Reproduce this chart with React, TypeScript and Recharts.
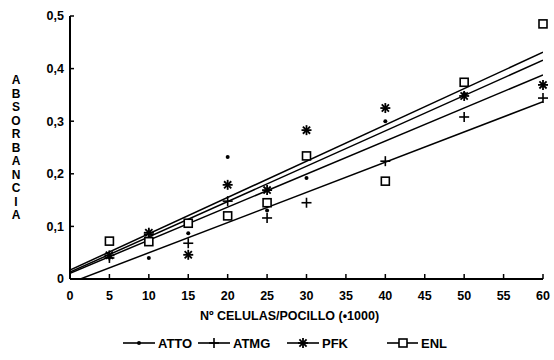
import { ScatterChart, Scatter, XAxis, YAxis, ReferenceLine, Legend } from 'recharts';

// cells per well (x1000)
const CELLS = [5, 10, 15, 20, 25, 30, 40, 50, 60];

// absorbance, null = no visible point
const ATTO = [0.042, 0.04, 0.087, 0.232, 0.13, 0.192, 0.3, 0.352, null];
const ATMG = [0.04, 0.085, 0.068, 0.148, 0.116, 0.145, 0.224, 0.308, 0.344];
const PFK = [0.045, 0.088, 0.046, 0.179, 0.169, 0.283, 0.325, 0.348, 0.369];
const ENL = [0.072, 0.071, 0.106, 0.12, 0.145, 0.234, 0.186, 0.374, 0.485];

// regression lines: value at FIT_X[0] and FIT_X[1]
const FIT_X = [0, 60];
const FIT_ENL = [0.017, 0.431];
const FIT_PFK = [0.013, 0.416];
const FIT_ATTO = [0.011, 0.388];
const FIT_ATMG = [-0.0075, 0.337];

const X_TICKS = [0, 5, 10, 15, 20, 25, 30, 35, 40, 45, 50, 55, 60];
const Y_TICKS = [0, 0.1, 0.2, 0.3, 0.4, 0.5];

const Y_TITLE = 'ABSORBANCIA';
const X_TITLE = 'Nº CELULAS/POCILLO (•1000)';

const FONT = '"Liberation Sans", Arial, sans-serif';
const LEGEND_ITEM_W = [75, 89, 100, 60];

const toPoints = (values: (number | null)[]) =>
  CELLS.map((x, i) => ({ x, y: values[i] })).filter((d) => d.y !== null);

const fitSegment = (fit: number[]) => [
  { x: FIT_X[0], y: fit[0] },
  { x: FIT_X[1], y: fit[1] },
];

// marker glyphs
const DotMark = ({ cx, cy }: any) => <circle cx={cx} cy={cy} r={2} fill="#000" />;

const PlusMark = ({ cx, cy }: any) => (
  <g stroke="#000" strokeWidth={1.6}>
    <line x1={cx - 5} y1={cy} x2={cx + 5} y2={cy} />
    <line x1={cx} y1={cy - 5} x2={cx} y2={cy + 5} />
  </g>
);

const StarMark = ({ cx, cy }: any) => (
  <g stroke="#000" strokeWidth={1.8}>
    <line x1={cx - 5} y1={cy} x2={cx + 5} y2={cy} />
    <line x1={cx} y1={cy - 5} x2={cx} y2={cy + 5} />
    <line x1={cx - 3.6} y1={cy - 3.6} x2={cx + 3.6} y2={cy + 3.6} />
    <line x1={cx - 3.6} y1={cy + 3.6} x2={cx + 3.6} y2={cy - 3.6} />
  </g>
);

const SquareMark = ({ cx, cy }: any) => (
  <rect x={cx - 4} y={cy - 4} width={8} height={8} fill="#fff" stroke="#000" strokeWidth={1.6} />
);

const SERIES = [
  { name: 'ATTO', values: ATTO, Mark: DotMark },
  { name: 'ATMG', values: ATMG, Mark: PlusMark },
  { name: 'PFK', values: PFK, Mark: StarMark },
  { name: 'ENL', values: ENL, Mark: SquareMark },
];

const FITS = [FIT_ENL, FIT_PFK, FIT_ATTO, FIT_ATMG];

const formatY = (v: number) => (v === 0 ? '0' : v.toFixed(1).replace('.', ','));

const YTitle = ({ viewBox }: any) => {
  const cy = viewBox.y + viewBox.height / 2;
  const step = 13.5;
  const top = cy - ((Y_TITLE.length - 1) * step) / 2;
  return (
    <text x={16} y={top} textAnchor="middle" fontFamily={FONT} fontWeight="bold" fontSize={12} fill="#000">
      {Y_TITLE.split('').map((ch, i) => (
        <tspan key={i} x={16} y={top + i * step} dy="0.35em">
          {ch}
        </tspan>
      ))}
    </text>
  );
};

const renderLegend = () => (
  <div
    style={{
      display: 'flex',
      alignItems: 'center',
      height: 16,
      paddingLeft: 123,
      fontFamily: FONT,
      fontWeight: 'bold',
      fontSize: 13,
      color: '#000',
    }}
  >
    {SERIES.map(({ name, Mark }, i) => (
      <div key={name} style={{ display: 'flex', alignItems: 'center', width: LEGEND_ITEM_W[i] }}>
        <svg width={32} height={14} style={{ marginRight: 3 }}>
          <line x1={0} y1={7} x2={32} y2={7} stroke="#000" strokeWidth={1.6} />
          <Mark cx={16} cy={7} />
        </svg>
        <span>{name}</span>
      </div>
    ))}
  </div>
);

export default function App() {
  return (
    <div style={{ position: 'absolute', left: 0, top: 0, background: '#fff' }}>
      <ScatterChart width={554} height={360} margin={{ top: 16, right: 11, bottom: 9, left: 0 }}>
        <XAxis
          type="number"
          dataKey="x"
          domain={[0, 60]}
          ticks={X_TICKS}
          interval={0}
          height={56}
          axisLine={{ stroke: '#000', strokeWidth: 2 }}
          tickLine={{ stroke: '#000', strokeWidth: 1.5 }}
          tickSize={-5}
          tickMargin={17}
          tick={{ fill: '#000', fontFamily: FONT, fontWeight: 'bold', fontSize: 12.5 }}
          label={{
            value: X_TITLE,
            position: 'insideBottom',
            offset: 15,
            dx: -17,
            fill: '#000',
            fontFamily: FONT,
            fontWeight: 'bold',
            fontSize: 12.5,
          }}
        />
        <YAxis
          type="number"
          dataKey="y"
          domain={[0, 0.5]}
          ticks={Y_TICKS}
          interval={0}
          width={70}
          axisLine={{ stroke: '#000', strokeWidth: 2 }}
          tickLine={{ stroke: '#000', strokeWidth: 1.5 }}
          tickSize={-4}
          tickMargin={10}
          tickFormatter={formatY}
          tick={{ fill: '#000', fontFamily: FONT, fontWeight: 'bold', fontSize: 12.5 }}
          label={<YTitle />}
        />
        {FITS.map((fit, i) => (
          <ReferenceLine
            key={i}
            segment={fitSegment(fit)}
            stroke="#000"
            strokeWidth={1.5}
            ifOverflow="hidden"
          />
        ))}
        {SERIES.map(({ name, values, Mark }) => (
          <Scatter
            key={name}
            name={name}
            data={toPoints(values)}
            fill="#000"
            shape={(p: any) => <Mark cx={p.cx} cy={p.cy} />}
            isAnimationActive={false}
          />
        ))}
        <Legend verticalAlign="bottom" align="left" content={renderLegend} />
      </ScatterChart>
    </div>
  );
}
